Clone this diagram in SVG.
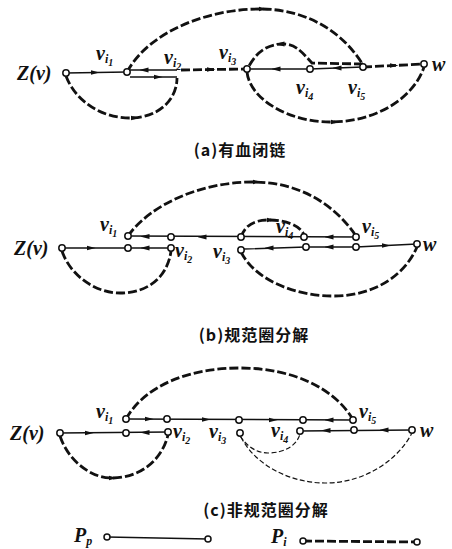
<svg xmlns="http://www.w3.org/2000/svg" width="452" height="549" viewBox="0 0 452 549">
<defs>
<marker id="ah" markerUnits="userSpaceOnUse" markerWidth="9" markerHeight="6" refX="4.5" refY="3" orient="auto">
<path d="M0,0.5 L9,3 L0,5.5 z" fill="#111"/>
</marker>
<style>
.bg{fill:#fff}
.ln{fill:none;stroke:#111;stroke-width:1.4}
.pl{fill:none;stroke:#111;stroke-width:2.8;stroke-dasharray:9 3}
.pt{fill:none;stroke:#111;stroke-width:1.2;stroke-dasharray:5 2.5}
.arr{fill:none;stroke:none;marker-end:url(#ah)}
.nd{fill:#fff;stroke:#111;stroke-width:1.5}
.lbl{font-family:"Liberation Serif","DejaVu Serif",serif;font-style:italic;font-weight:bold;font-size:20px;fill:#111}
.s1{font-size:12px}
.s2{font-size:10px}
.cap{font-family:"Noto Sans CJK SC","Liberation Sans",sans-serif;font-size:16px;font-weight:bold;fill:#111;text-anchor:middle;letter-spacing:1px}
</style>
</defs>
<rect class="bg" x="0" y="0" width="452" height="549"/>

<!-- ===== (a) ===== -->
<g id="connectors-a">
<path class="ln" d="M66,73 L127,72"/>
<path class="ln" d="M128,70 L177,70"/>
<path class="ln" d="M130,77 L177,77"/>
<path class="pl" d="M181,70 L247,69"/>
<path class="ln" d="M247,69 L310,69 L363,67"/>
<path class="pl" d="M363,67 L424,64"/>
<path class="pl" d="M127,72 C150,30 210,9 260,9 C310,9 345,35 363,65"/>
<path class="pl" d="M363,64 L312,63 C300,50 295,44 283,44 C265,44 255,55 249,66"/>
<path class="pl" d="M66,76 C75,100 100,118 130,118 C158,118 177,100 177,78"/>
<path class="pl" d="M247,72 C250,100 290,122 330,122 C380,122 415,95 424,67"/>
<path class="arr" d="M94,72.5 l1,0"/>
<path class="arr" d="M145,70 l-1,0"/>
<path class="arr" d="M157,77 l1,0"/>
<path class="arr" d="M210,69.5 l1,0"/>
<path class="arr" d="M277,69 l-1,0"/>
<path class="arr" d="M338,68 l-1,0"/>
<path class="arr" d="M393,65.5 l1,0"/>
<path class="arr" d="M262,9 l1,0"/>
<path class="arr" d="M281,44 l-1,0"/>
<path class="arr" d="M134,118 l1,0"/>
<path class="arr" d="M334,122 l1,0"/>
</g>
<g id="a-Z"><circle class="nd" cx="66" cy="73" r="3.2"/><text class="lbl" x="17" y="80">Z(v)</text></g>
<g id="a-vi1"><circle class="nd" cx="127" cy="72" r="3.2"/><text class="lbl" x="96" y="60">v<tspan class="s1" dy="3">i</tspan><tspan class="s2" dy="3">1</tspan></text></g>
<g id="a-vi2"><text class="lbl" x="164" y="64">v<tspan class="s1" dy="3">i</tspan><tspan class="s2" dy="3">2</tspan></text></g>
<g id="a-vi3"><circle class="nd" cx="247" cy="69" r="3.2"/><text class="lbl" x="219" y="59">v<tspan class="s1" dy="3">i</tspan><tspan class="s2" dy="3">3</tspan></text></g>
<g id="a-vi4"><circle class="nd" cx="310" cy="69" r="3.2"/><text class="lbl" x="296" y="94">v<tspan class="s1" dy="3">i</tspan><tspan class="s2" dy="3">4</tspan></text></g>
<g id="a-vi5"><circle class="nd" cx="363" cy="67" r="3.2"/><text class="lbl" x="348" y="94">v<tspan class="s1" dy="3">i</tspan><tspan class="s2" dy="3">5</tspan></text></g>
<g id="a-w"><circle class="nd" cx="424" cy="64" r="3.2"/><text class="lbl" x="432" y="71">w</text></g>
<text class="cap" x="240" y="156">(a)有血闭链</text>

<!-- ===== (b) ===== -->
<g id="connectors-b">
<path class="ln" d="M62,248 L171,248"/>
<path class="ln" d="M128,236 L356,237"/>
<path class="ln" d="M244,249 L306,247 L356,247 L417,244"/>
<path class="pl" d="M128,236 C150,205 200,182 253,182 C300,182 335,205 356,236"/>
<path class="pl" d="M241,237 C245,225 255,220 268,220 C285,220 300,225 304,235"/>
<path class="pl" d="M62,251 C70,275 95,293 120,293 C150,293 168,275 171,251"/>
<path class="pl" d="M241,252 C255,280 295,296 333,296 C375,296 405,275 417,247"/>
<path class="arr" d="M90,248 l1,0"/>
<path class="arr" d="M146,248 l-1,0"/>
<path class="arr" d="M146,236.5 l-1,0"/>
<path class="arr" d="M203,237 l-1,0"/>
<path class="arr" d="M330,237 l-1,0"/>
<path class="arr" d="M270,248 l-1,0"/>
<path class="arr" d="M330,247 l-1,0"/>
<path class="arr" d="M385,245.5 l1,0"/>
<path class="arr" d="M256,182 l1,0"/>
<path class="arr" d="M270,220 l1,0"/>
</g>
<g id="b-Z"><circle class="nd" cx="62" cy="248" r="3.2"/><text class="lbl" x="14" y="255">Z(v)</text></g>
<g id="b-n1"><circle class="nd" cx="128" cy="248" r="3.2"/></g>
<g id="b-vi2"><circle class="nd" cx="171" cy="248" r="3.2"/><text class="lbl" x="175" y="257">v<tspan class="s1" dy="3">i</tspan><tspan class="s2" dy="3">2</tspan></text></g>
<g id="b-vi1"><circle class="nd" cx="128" cy="236" r="3.2"/><text class="lbl" x="100" y="231">v<tspan class="s1" dy="3">i</tspan><tspan class="s2" dy="3">1</tspan></text></g>
<g id="b-n2"><circle class="nd" cx="171" cy="237" r="3.2"/></g>
<g id="b-n3"><circle class="nd" cx="241" cy="237" r="3.2"/></g>
<g id="b-vi4"><circle class="nd" cx="304" cy="237" r="3.2"/><text class="lbl" x="276" y="233">v<tspan class="s1" dy="3">i</tspan><tspan class="s2" dy="3">4</tspan></text></g>
<g id="b-vi5"><circle class="nd" cx="356" cy="237" r="3.2"/><text class="lbl" x="362" y="233">v<tspan class="s1" dy="3">i</tspan><tspan class="s2" dy="3">5</tspan></text></g>
<g id="b-vi3"><circle class="nd" cx="241" cy="250" r="3.2"/><text class="lbl" x="213" y="258">v<tspan class="s1" dy="3">i</tspan><tspan class="s2" dy="3">3</tspan></text></g>
<g id="b-n4"><circle class="nd" cx="306" cy="247" r="3.2"/></g>
<g id="b-n5"><circle class="nd" cx="356" cy="247" r="3.2"/></g>
<g id="b-w"><circle class="nd" cx="417" cy="244" r="3.2"/><text class="lbl" x="423" y="251">w</text></g>
<text class="cap" x="254" y="341">(b)规范圈分解</text>

<!-- ===== (c) ===== -->
<g id="connectors-c">
<path class="ln" d="M60,433 L168,432"/>
<path class="ln" d="M126,419 L353,420"/>
<path class="ln" d="M300,431 L412,430"/>
<path class="pl" d="M126,419 C145,385 190,368 240,368 C295,368 335,390 352,418"/>
<path class="pl" d="M60,436 C68,460 90,478 112,478 C140,478 162,460 168,435"/>
<path class="pt" d="M240,436 C248,448 258,453 268,453 C285,453 297,445 300,434"/>
<path class="pt" d="M241,437 C255,465 290,483 325,483 C365,483 398,460 412,433"/>
<path class="arr" d="M88,433 l1,0"/>
<path class="arr" d="M146,432.5 l-1,0"/>
<path class="arr" d="M148,419 l1,0"/>
<path class="arr" d="M205,419.5 l1,0"/>
<path class="arr" d="M272,420 l1,0"/>
<path class="arr" d="M330,420 l-1,0"/>
<path class="arr" d="M327,430.5 l-1,0"/>
<path class="arr" d="M385,430 l-1,0"/>
<path class="arr" d="M112,478 l1,0"/>
</g>
<g id="c-Z"><circle class="nd" cx="60" cy="433" r="3.2"/><text class="lbl" x="10" y="440">Z(v)</text></g>
<g id="c-n1"><circle class="nd" cx="126" cy="433" r="3.2"/></g>
<g id="c-vi2"><circle class="nd" cx="168" cy="432" r="3.2"/><text class="lbl" x="173" y="438">v<tspan class="s1" dy="3">i</tspan><tspan class="s2" dy="3">2</tspan></text></g>
<g id="c-vi1"><circle class="nd" cx="126" cy="419" r="3.2"/><text class="lbl" x="96" y="418">v<tspan class="s1" dy="3">i</tspan><tspan class="s2" dy="3">1</tspan></text></g>
<g id="c-n2"><circle class="nd" cx="167" cy="419" r="3.2"/></g>
<g id="c-n3"><circle class="nd" cx="239" cy="420" r="3.2"/></g>
<g id="c-n4"><circle class="nd" cx="303" cy="420" r="3.2"/></g>
<g id="c-vi5"><circle class="nd" cx="353" cy="420" r="3.2"/><text class="lbl" x="359" y="418">v<tspan class="s1" dy="3">i</tspan><tspan class="s2" dy="3">5</tspan></text></g>
<g id="c-vi3"><circle class="nd" cx="240" cy="433" r="3.2"/><text class="lbl" x="209" y="438">v<tspan class="s1" dy="3">i</tspan><tspan class="s2" dy="3">3</tspan></text></g>
<g id="c-vi4"><circle class="nd" cx="300" cy="431" r="3.2"/><text class="lbl" x="271" y="437">v<tspan class="s1" dy="3">i</tspan><tspan class="s2" dy="3">4</tspan></text></g>
<g id="c-n5"><circle class="nd" cx="354" cy="430" r="3.2"/></g>
<g id="c-w"><circle class="nd" cx="412" cy="430" r="3.2"/><text class="lbl" x="420" y="437">w</text></g>
<text class="cap" x="266" y="516">(c)非规范圈分解</text>

<!-- ===== legend ===== -->
<g id="legend-Pp">
<text class="lbl" x="74" y="542">P<tspan class="s1" dy="3">p</tspan></text>
<path class="ln" d="M107,537 L208,539"/>
<circle class="nd" cx="107" cy="537" r="3"/><circle class="nd" cx="208" cy="539" r="3"/>
</g>
<g id="legend-Pi">
<text class="lbl" x="271" y="543">P<tspan class="s1" dy="3">i</tspan></text>
<path class="pl" d="M303,541 L417,542"/>
<circle class="nd" cx="303" cy="541" r="3"/><circle class="nd" cx="417" cy="542" r="3"/>
</g>
</svg>
